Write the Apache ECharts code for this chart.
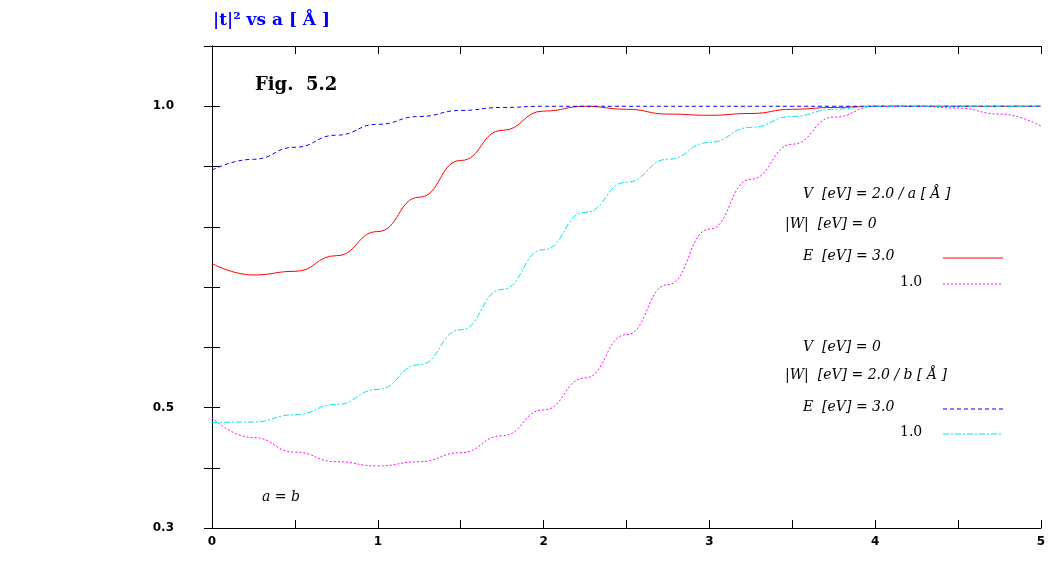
<!DOCTYPE html>
<html>
<head>
<meta charset="utf-8">
<script src="https://cdn.jsdelivr.net/npm/echarts@6/dist/echarts.min.js"></script>
<style>html,body{margin:0;padding:0;background:#fff}#chart{width:1063px;height:572px}</style>
</head>
<body>
<div id="chart"></div>
<script>
// a [Å] sample points
const xs = [0, 0.25, 0.5, 0.75, 1, 1.25, 1.5, 1.75, 2, 2.25, 2.5, 2.75, 3, 3.25, 3.5, 3.75, 4, 4.25, 4.5, 4.75, 5];
// V = 2.0/a, W = 0
const redE3 = [0.739, 0.720, 0.726, 0.752, 0.792, 0.849, 0.910, 0.960, 0.992, 1.0, 0.995, 0.987, 0.985, 0.988, 0.995, 0.998, 1.0, 1.0, 1.0, 1.0, 1.0];
const magE1 = [0.483, 0.450, 0.426, 0.410, 0.403, 0.410, 0.425, 0.453, 0.496, 0.549, 0.621, 0.704, 0.796, 0.879, 0.937, 0.982, 1.0, 1.0, 0.997, 0.987, 0.967];
// V = 0, W = 2.0/b
const blueE3 = [0.894, 0.912, 0.932, 0.952, 0.970, 0.983, 0.993, 0.998, 1.0, 1.0, 1.0, 1.0, 1.0, 1.0, 1.0, 1.0, 1.0, 1.0, 1.0, 1.0, 1.0];
const cyanE1 = [0.475, 0.476, 0.488, 0.505, 0.530, 0.571, 0.629, 0.696, 0.762, 0.824, 0.874, 0.912, 0.940, 0.965, 0.983, 0.995, 1.0, 1.0, 1.0, 1.0, 1.0];
const yLabels = ['0.3', '0.5', '1.0'];

const pair = arr => xs.map((x, i) => [x, arr[i]]);
const chart = echarts.init(document.getElementById('chart'));
const serif = 'DejaVu Serif';
const tick = {show: true, inside: true, length: 8, lineStyle: {color: '#000'}};
const line = (data, color, type) => ({
    type: 'line', data: pair(data), smooth: 0.5, smoothMonotone: 'x', symbol: 'none',
    lineStyle: {color: color, width: 1, type: type}
});
const t = (x, y, text, extra) => Object.assign({type: 'text', left: x, top: y,
    style: {text: text, font: 'italic 14px ' + serif, fill: '#000'}}, extra || {});
const seg = (x, y, color, dash) => ({type: 'line', shape: {x1: x, y1: y, x2: x + 60, y2: y},
    style: {stroke: color, lineWidth: 1, lineDash: dash}});

chart.setOption({
    animation: false,
    grid: {left: 212, right: 22, top: 46, bottom: 44},
    xAxis: [
        {type: 'value', min: 0, max: 5, interval: 0.5,
            axisLine: {lineStyle: {color: '#000'}}, axisTick: tick, splitLine: {show: false},
            axisLabel: {formatter: v => Number.isInteger(v) ? String(v) : '', fontWeight: 'bold',
                fontFamily: 'DejaVu Sans', fontSize: 12, color: '#000', margin: 8}},
        {type: 'value', position: 'top', min: 0, max: 5, interval: 0.5,
            axisLine: {show: true, lineStyle: {color: '#000'}}, axisTick: tick, axisLabel: {show: false}, splitLine: {show: false}}
    ],
    yAxis: [
        {type: 'value', min: 0.3, max: 1.1, interval: 0.1,
            axisLine: {show: true, lineStyle: {color: '#000'}}, axisTick: tick, splitLine: {show: false},
            axisLabel: {formatter: v => {const s = v.toFixed(1); return yLabels.includes(s) ? s : '';},
                fontWeight: 'bold', fontFamily: 'DejaVu Sans', fontSize: 12, color: '#000', margin: 38}},
        {type: 'value', position: 'right', min: 0.3, max: 1.1, interval: 0.1,
            axisLine: {show: true, lineStyle: {color: '#000'}}, axisTick: tick, axisLabel: {show: false}, splitLine: {show: false}}
    ],
    series: [
        line(redE3, '#ff0000', 'solid'),
        line(magE1, '#ff00ff', [2, 2]),
        line(blueE3, '#0000ff', [4, 3]),
        line(cyanE1, '#00e5e5', [6, 2, 2, 2])
    ],
    graphic: [
        {type: 'text', left: 213, top: 12, style: {text: '|t|² vs a [ Å ]', font: 'bold 17px ' + serif, fill: '#0000ff'}},
        {type: 'text', left: 255, top: 76, style: {text: 'Fig.  5.2', font: 'bold 18px ' + serif, fill: '#000'}},
        t(262, 490, 'a = b'),
        t(803, 187, 'V  [eV] = 2.0 / a [ Å ]'),
        t(785, 217, '|W|  [eV] = 0'),
        t(803, 249, 'E  [eV] = 3.0'), seg(943, 258, '#ff0000', null),
        t(900, 275, '1.0', {style: {text: '1.0', font: '14px ' + serif, fill: '#000'}}), seg(943, 284, '#ff00ff', [2, 2]),
        t(803, 340, 'V  [eV] = 0'),
        t(785, 368, '|W|  [eV] = 2.0 / b [ Å ]'),
        t(803, 400, 'E  [eV] = 3.0'), seg(943, 409, '#0000ff', [4, 3]),
        t(900, 425, '1.0', {style: {text: '1.0', font: '14px ' + serif, fill: '#000'}}), seg(943, 434, '#00e5e5', [6, 2, 2, 2])
    ]
});
</script>
</body>
</html>
